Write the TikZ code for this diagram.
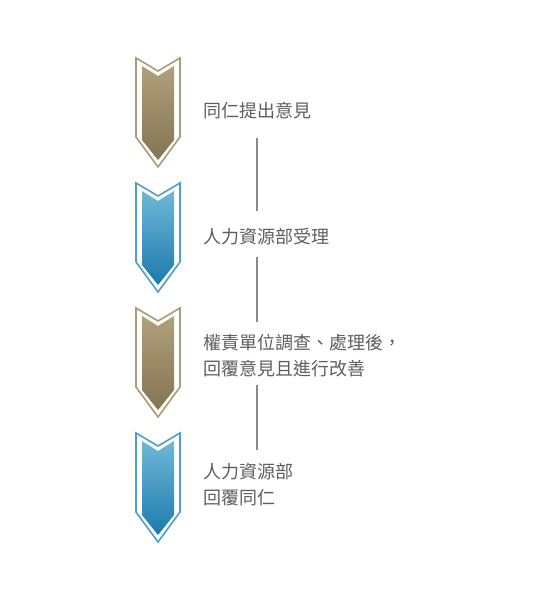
\documentclass[tikz,border=0pt]{standalone}
\usepackage{fontspec}
\newfontfamily\cjkfont{Noto Sans CJK TC}
\usetikzlibrary{positioning}
\definecolor{goldtop}{HTML}{AFA17A}
\definecolor{goldbot}{HTML}{847453}
\definecolor{goldline}{HTML}{A99B77}
\definecolor{bluetop}{HTML}{6FB8D6}
\definecolor{bluebot}{HTML}{1C7AAE}
\definecolor{blueline}{HTML}{4E9ECB}
\definecolor{textgray}{HTML}{5E5E5E}
\definecolor{linegray}{HTML}{8A8A8A}

\begin{document}
\begin{tikzpicture}[
        x=1pt, y=-1pt,
        stagetext/.style={anchor=west, align=left, inner sep=0pt, text=textgray, font=\cjkfont\fontsize{18}{26}\selectfont},
        connector/.style={draw=linegray, line width=1.3pt}
    ]
    \useasboundingbox (0,0) rectangle (546,601);

    % Chevrons
    \foreach \dy/\c in {0/gold, 125/blue, 250/gold, 375/blue} {
        \begin{scope}[shift={(0,\dy)}]
            \filldraw[draw=\c line, fill=white, line width=1.6pt, line join=miter]
                (136,58) -- (158,71) -- (180,58) -- (180,137) -- (158,167) -- (136,137) -- cycle;
            \shade[top color=\c top, bottom color=\c bot]
                (142,66) -- (158,76) -- (174,66) -- (174,140) -- (158,160) -- (142,140) -- cycle;
        \end{scope}
    }

    % Nodes
    \node[stagetext] (s1) at (203,111) {同仁提出意見};
    \node[stagetext] (s2) at (203,237) {人力資源部受理};
    \node[stagetext] (s3) at (203,356) {權責單位調查、處理後，\\回覆意見且進行改善};
    \node[stagetext] (s4) at (203,485) {人力資源部\\回覆同仁};

    \coordinate (c1a) at (257,138);
    \coordinate (c1b) at (257,211);
    \coordinate (c2a) at (257,257);
    \coordinate (c2b) at (257,322);
    \coordinate (c3a) at (257,385);
    \coordinate (c3b) at (257,450);

    % Edges
    \draw[connector] (c1a) -- (c1b);
    \draw[connector] (c2a) -- (c2b);
    \draw[connector] (c3a) -- (c3b);

\end{tikzpicture}
\end{document}
